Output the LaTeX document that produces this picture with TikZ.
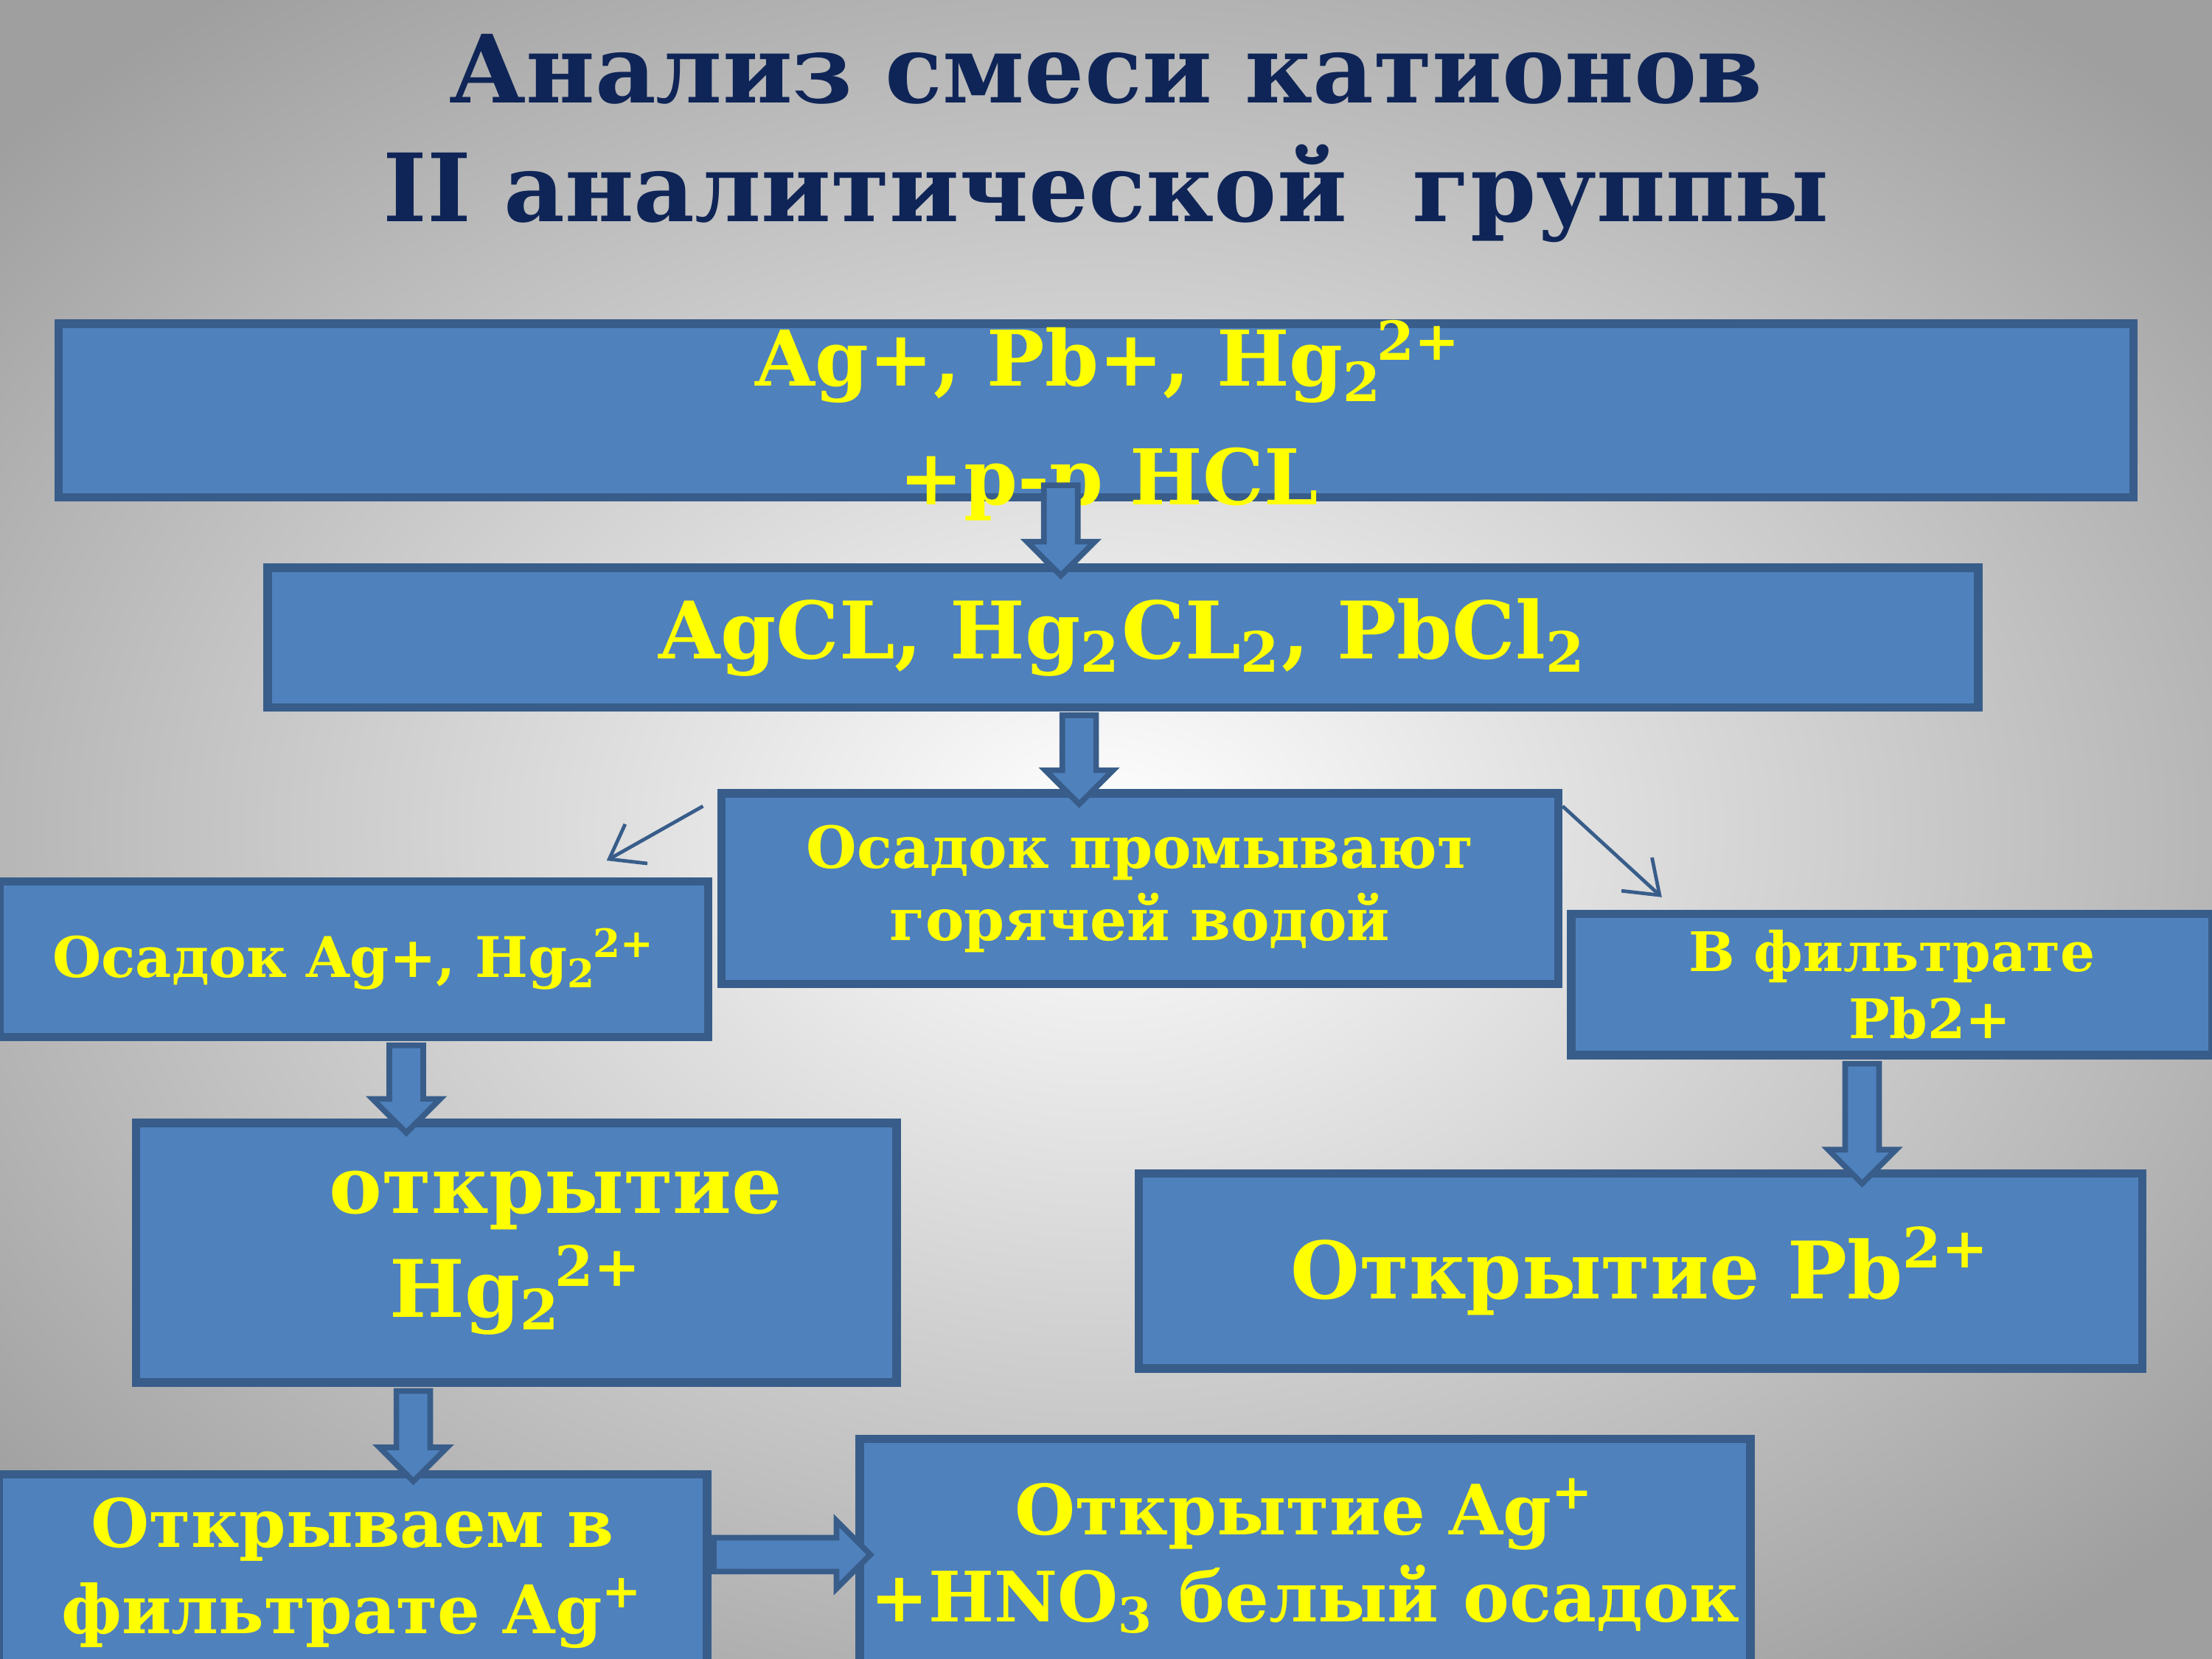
\documentclass[tikz,border=0pt]{standalone}
\usepackage{fontspec}
\setmainfont{DejaVu Serif}
\usetikzlibrary{shapes.arrows,calc,arrows.meta}
\definecolor{boxblue}{HTML}{4F81BD}
\definecolor{boxline}{HTML}{385D8A}
\definecolor{txtyel}{HTML}{FFFF00}
\definecolor{titleblue}{HTML}{0F2557}
\newcommand\ionsub[2]{\textsubscript{#1}\kern-0.08em\textsuperscript{#2}}
\tikzset{
  box/.style={draw=boxline, line width=0.6mm, fill=boxblue, inner sep=0pt,
    text=txtyel, font=\bfseries, align=center},
  barrow/.style={single arrow, draw=boxline, line width=0.4mm, fill=boxblue,
    inner sep=0.1cm, minimum width=0.46cm, single arrow head extend=0.12cm,
    single arrow head indent=0pt},
  thinarr/.style={draw=boxline, line width=0.25mm, -{Straight Barb[length=2.2mm,width=3.2mm]}}
}
\newcommand\blockarrow[2]{%
  \path let \p1=($(#2)-(#1)$), \n1={veclen(\x1,\y1)}, \n2={atan2(\y1,\x1)} in
    node[barrow, minimum height=\n1, rotate=\n2] at ($(#1)!0.5!(#2)$) {};}
\begin{document}
\begin{tikzpicture}[x=0.01cm,y=-0.01cm]
  \useasboundingbox (0,0) rectangle (1568,1176);
  \shade[inner color=white, outer color=gray!75] (-250,-150) rectangle (1818,1326);
  \clip (0,0) rectangle (1568,1176);

  % title
  \node[text=titleblue, font=\bfseries\fontsize{19}{24}\selectfont, align=center] (title) at (784,98)
    {Анализ смеси катионов\\II аналитической \ группы};

  % boxes
  \node[box, minimum width=14.7cm, minimum height=1.23cm] (mix) at (777,291) {};
  \node[box, minimum width=12.12cm, minimum height=0.99cm, font=\bfseries\fontsize{16}{19}\selectfont] (prec) at (796,452)
    {AgCL, Hg\textsubscript{2}CL\textsubscript{2}, PbCl\textsubscript{2}};
  \node[box, minimum width=5.93cm, minimum height=1.35cm, font=\bfseries\fontsize{11.7}{14.5}\selectfont] (wash) at (808,630)
    {Осадок промывают\\горячей водой};
  \node[box, minimum width=5.02cm, minimum height=1.1cm, font=\bfseries\fontsize{11.3}{14}\selectfont] (left) at (251,680)
    {Осадок Ag+, Hg\ionsub{2}{2+}};
  \node[box, minimum width=4.54cm, minimum height=1cm, font=\bfseries\fontsize{11}{13.5}\selectfont] (right) at (1341,698)
    {В фильтрате\\\hspace*{1.4em}Pb2+};
  \node[box, minimum width=5.39cm, minimum height=1.84cm, font=\bfseries\fontsize{16}{21}\selectfont] (hg) at (366,888)
    {\hspace*{1em}открытие\\Hg\ionsub{2}{2+}};
  \node[box, minimum width=7.11cm, minimum height=1.38cm, font=\bfseries\fontsize{16}{19}\selectfont] (pb) at (1163,901)
    {Открытие Pb\textsuperscript{2+}};
  \node[box, minimum width=5.02cm, minimum height=1.4cm, font=\bfseries\fontsize{13.5}{17.5}\selectfont] (filt) at (250,1115)
    {Открываем в\\фильтрате Ag\textsuperscript{+}};
  \node[box, minimum width=6.31cm, minimum height=1.66cm, font=\bfseries\fontsize{14}{17.5}\selectfont] (ag) at (925,1103)
    {Открытие Ag\textsuperscript{+}\\+HNO\textsubscript{3} белый осадок};

  % text of the first box runs over its edge
  \node[text=txtyel, font=\bfseries\fontsize{15.5}{24}\selectfont, align=center] (mixtxt) at (786,298)
    {Ag+, Pb+, Hg\ionsub{2}{2+}\\+р-р HCL};

  % block arrows
  \blockarrow{752,338}{752,402}
  \blockarrow{765,501}{765,564}
  \blockarrow{288,735}{288,797}
  \blockarrow{1320,748}{1320,833}
  \blockarrow{293,980}{293,1044}
  \blockarrow{500,1102}{611,1102}

  % thin arrows
  \draw[thinarr] (wash.north west) ++(-10,12) -- (430,610);
  \draw[thinarr] (wash.north east) ++(0,12) -- (1178,636);
\end{tikzpicture}
\end{document}
